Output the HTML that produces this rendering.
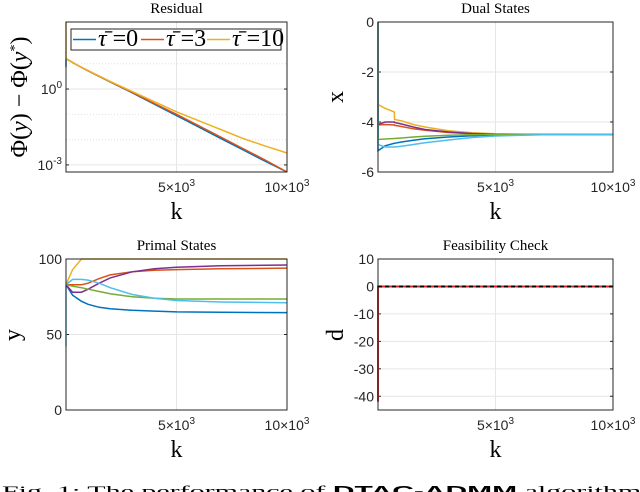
<!DOCTYPE html>
<html><head><meta charset="utf-8">
<style>
body{margin:0;background:#fff;width:640px;height:492px;overflow:hidden}
svg{display:block}
.tk{font-family:"Liberation Sans",sans-serif;font-size:14px;fill:#262626}
.ti{font-family:"Liberation Serif",serif;font-size:15px;fill:#000}
.al{font-family:"Liberation Serif",serif;font-size:24px;fill:#000}
</style></head><body>
<svg id="fig" width="640" height="492" viewBox="0 0 640 492"></svg>
<script>
// Residual data (log10 values)
const resK=[0,500,1000,2000,3000,4000,5000,6000,7000,8000,9000,10000];
const resTau0=[1.2,0.95,0.72,0.28,-0.15,-0.6,-1.05,-1.5,-1.95,-2.4,-2.85,-3.28];
const resTau3=[1.2,0.95,0.72,0.29,-0.13,-0.57,-1.0,-1.45,-1.9,-2.35,-2.8,-3.28];
const resTau10=[1.2,0.95,0.73,0.3,-0.1,-0.5,-0.9,-1.25,-1.6,-1.95,-2.25,-2.53];
const resLegend=["τ̄ =0","τ̄ =3","τ̄ =10"];
// Dual states
const dualK=[0,300,700,701,1000,1500,2000,3000,4000,5000,7000,10000];
const dualYellow=[-3.3,-3.45,-3.6,-3.9,-3.95,-4.1,-4.2,-4.35,-4.43,-4.47,-4.5,-4.5];
const dualPurple=[-4.1,-4.0,-4.0,-4.02,-4.08,-4.2,-4.3,-4.4,-4.46,-4.49,-4.5,-4.5];
const dualOrange=[-4.12,-4.1,-4.12,-4.13,-4.18,-4.27,-4.33,-4.42,-4.47,-4.49,-4.5,-4.5];
const dualGreen=[-4.7,-4.68,-4.66,-4.66,-4.64,-4.6,-4.57,-4.53,-4.51,-4.5,-4.5,-4.5];
const dualBlue=[-5.15,-4.95,-4.85,-4.85,-4.8,-4.73,-4.67,-4.6,-4.55,-4.52,-4.5,-4.5];
const dualCyan=[-4.9,-5.0,-5.0,-5.0,-4.97,-4.9,-4.83,-4.72,-4.62,-4.56,-4.51,-4.5];
// Primal states
const primK=[0,300,700,1000,1500,2000,3000,4000,5000,7000,10000];
const primBlue=[83,76,72,70,68,67,66,65.5,65,64.7,64.5];
const primYellow=[83,93,100,100,100,100,100,100,100,100,100];
const primOrange=[83,83,83,84,87,89.5,91.5,92.5,93,93.5,94];
const primPurple=[83,78,78,80,84,87.5,91.5,93.5,94.5,95.5,96];
const primGreen=[83,82,81,80,78.5,77,75,74,73.5,73.5,73.5];
const primCyan=[83,86.5,86.5,86,84,81,76.5,74,72.5,71.5,71];
// Feasibility
const feasK=[0,1,10000];
const feasD=[-42,0,0];

const C={blue:"#0072BD",orange:"#D95319",yellow:"#EDB120",purple:"#7E2F8E",green:"#77AC30",cyan:"#4DBEEE"};
const svg=document.getElementById('fig');
const NS="http://www.w3.org/2000/svg";
function mk(tag,attrs,parent){const e=document.createElementNS(NS,tag);for(const k in attrs)e.setAttribute(k,attrs[k]);(parent||svg).appendChild(e);return e;}
function txt(x,y,s,cls,anchor,parent){const t=mk('text',{x:x,y:y,class:cls,'text-anchor':anchor||'middle'},parent);t.textContent=s;return t;}

function panel(name,x0,x1,y0,y1,ymin,ymax){
  const g=mk('g',{});
  
  
  const sx=k=>x0+(k/10000)*(x1-x0);
  const sy=v=>y1-(v-ymin)/(ymax-ymin)*(y1-y0);
  return {g,sx,sy,x0,x1,y0,y1};
}
function frame(P,yticks,ylabels,title,ylab,grid2){
  const {g,sx,sy,x0,x1,y0,y1}=P;
  mk('rect',{x:x0,y:y0,width:x1-x0,height:y1-y0,fill:'#fff'},g);
  mk('line',{x1:sx(5000),x2:sx(5000),y1:y0,y2:y1,stroke:'#e6e6e6'},g);
  yticks.forEach((v,i)=>{mk('line',{x1:x0,x2:x1,y1:sy(v),y2:sy(v),stroke:'#e6e6e6'},g);});
  (grid2||[]).forEach(v=>{mk('line',{x1:x0,x2:x1,y1:sy(v),y2:sy(v),stroke:'#e0e0e0','stroke-dasharray':'1,2'},g);});
  const xt=mk('g',{},g);
  
  
  [5000,10000].forEach(k=>{
    const t=txt(sx(k),y1+20,'','tk','middle',xt);
    t.innerHTML=(k/1000)+'×10<tspan dy="-6" font-size="10">3</tspan>';
  });
  const yt=mk('g',{},g);
  
  
  yticks.forEach((v,i)=>{
    const t=txt(x0-4,sy(v)+5,'','tk','end',yt);t.innerHTML=ylabels[i];
    mk('line',{x1:x0,x2:x0+3,y1:sy(v),y2:sy(v),stroke:'#262626'},g);
    mk('line',{x1:x1,x2:x1-3,y1:sy(v),y2:sy(v),stroke:'#262626'},g);
  });
  const tt=txt((x0+x1)/2,13,title,'ti','middle',g);tt.setAttribute('y',y0-9);
  
  
  const kl=txt((x0+x1)/2,y1+47,'k','al','middle',g);
  
  
  return g;
}
function box(P){const {g,x0,x1,y0,y1}=P;mk('rect',{x:x0,y:y0,width:x1-x0,height:y1-y0,fill:'none',stroke:'#262626','stroke-width':1},g);}
function line(P,ks,vs,color,name,extra){
  const d=ks.map((k,i)=>(i?'L':'M')+P.sx(k).toFixed(1)+','+P.sy(vs[i]).toFixed(1)).join(' ');
  const p=mk('path',Object.assign({d:d,fill:'none',stroke:color,'stroke-width':1.5},extra||{}),P.g);
  
  
  return p;
}

// Panel 1: Residual (log)
const P1=panel('residual-panel',66,287,22,172,-3.28,2.65);
frame(P1,[0,-3],['10<tspan dy="-6" font-size="10">0</tspan>','10<tspan dy="-6" font-size="10">-3</tspan>'],'Residual','',[1,-1,-2]);
line(P1,[0,0],[0.87,1.2],C.blue,'residual-spike-tau0');
line(P1,resK,resTau0,C.blue,'residual-tau0');
line(P1,resK,resTau3,C.orange,'residual-tau3');
line(P1,resK,resTau10,C.yellow,'residual-tau10');
line(P1,[0,0],[1.2,2.65],C.yellow,'residual-spike-tau10');
box(P1);
const yl1=txt(0,0,'Φ(y) − Φ(y*)','al','middle');
yl1.innerHTML='Φ(<tspan font-style="italic">y</tspan>) − Φ(<tspan font-style="italic">y</tspan><tspan dy="-8" font-size="14">*</tspan><tspan dy="8">)</tspan>';
yl1.setAttribute('transform','translate(27,97) rotate(-90)');yl1.setAttribute('font-size','22');


// legend
const lg=mk('g',{});


mk('rect',{x:71,y:29,width:210,height:21,fill:'#fff',stroke:'#262626'},lg);
const lc=[C.blue,C.orange,C.yellow],lx=[73,141,207];
resLegend.forEach((s,i)=>{
  const e=mk('g',{},lg);
  
  
  mk('line',{x1:lx[i],x2:lx[i]+23,y1:39.5,y2:39.5,stroke:lc[i],'stroke-width':1.5},e);
  const t=txt(lx[i]+25,46,'','al','start',e);t.setAttribute('font-size','17');
  t.innerHTML='<tspan font-style="italic">τ̄</tspan> ='+s.split('=')[1];
});

// Panel 2: Dual States
const P2=panel('dual-states-panel',378,613,22,172,-6,0);
frame(P2,[0,-2,-4,-6],['0','-2','-4','-6'],'Dual States');
[[dualBlue,C.blue,'dual-blue'],[dualOrange,C.orange,'dual-orange'],[dualYellow,C.yellow,'dual-yellow'],[dualPurple,C.purple,'dual-purple'],[dualGreen,C.green,'dual-green'],[dualCyan,C.cyan,'dual-cyan']].forEach(s=>{
  line(P2,[0].concat(dualK),[0].concat(s[0]),s[1],s[2]);
});
box(P2);
const yl2=txt(0,0,'x','al');yl2.setAttribute('transform','translate(343,97) rotate(-90)');



// Panel 3: Primal States
const P3=panel('primal-states-panel',66,287,259,410,0,100);
frame(P3,[100,50,0],['100','50','0'],'Primal States');
line(P3,[0,0],[42,83],C.cyan,'primal-spike');
[[primBlue,C.blue,'primal-blue'],[primOrange,C.orange,'primal-orange'],[primYellow,C.yellow,'primal-yellow'],[primPurple,C.purple,'primal-purple'],[primGreen,C.green,'primal-green'],[primCyan,C.cyan,'primal-cyan']].forEach(s=>{
  line(P3,primK,s[0],s[1],s[2]);
});
box(P3);
const yl3=txt(0,0,'y','al');yl3.setAttribute('transform','translate(20,335) rotate(-90)');



// Panel 4: Feasibility
const P4=panel('feasibility-panel',378,613,259,410,-45,10);
frame(P4,[10,0,-10,-20,-30,-40],['10','0','-10','-20','-30','-40'],'Feasibility Check');
line(P4,feasK,feasD,'#d62728','feasibility-residual',{'stroke-width':2});
line(P4,[0,10000],[0,0],'#000','zero-reference',{'stroke-dasharray':'4,3','stroke-width':2});
box(P4);
const yl4=txt(0,0,'d','al');yl4.setAttribute('transform','translate(343,335) rotate(-90)');



// Caption
const cap=txt(1,0,'','ti','start');
cap.setAttribute('font-size','22');
cap.setAttribute('transform','translate(0,496) scale(2.0,1)');
cap.innerHTML='Fig. 1: The performance of <tspan font-family="Liberation Sans" font-weight="bold">DTAC-ADMM</tspan> algorithm with the';


</script>
</body></html>
